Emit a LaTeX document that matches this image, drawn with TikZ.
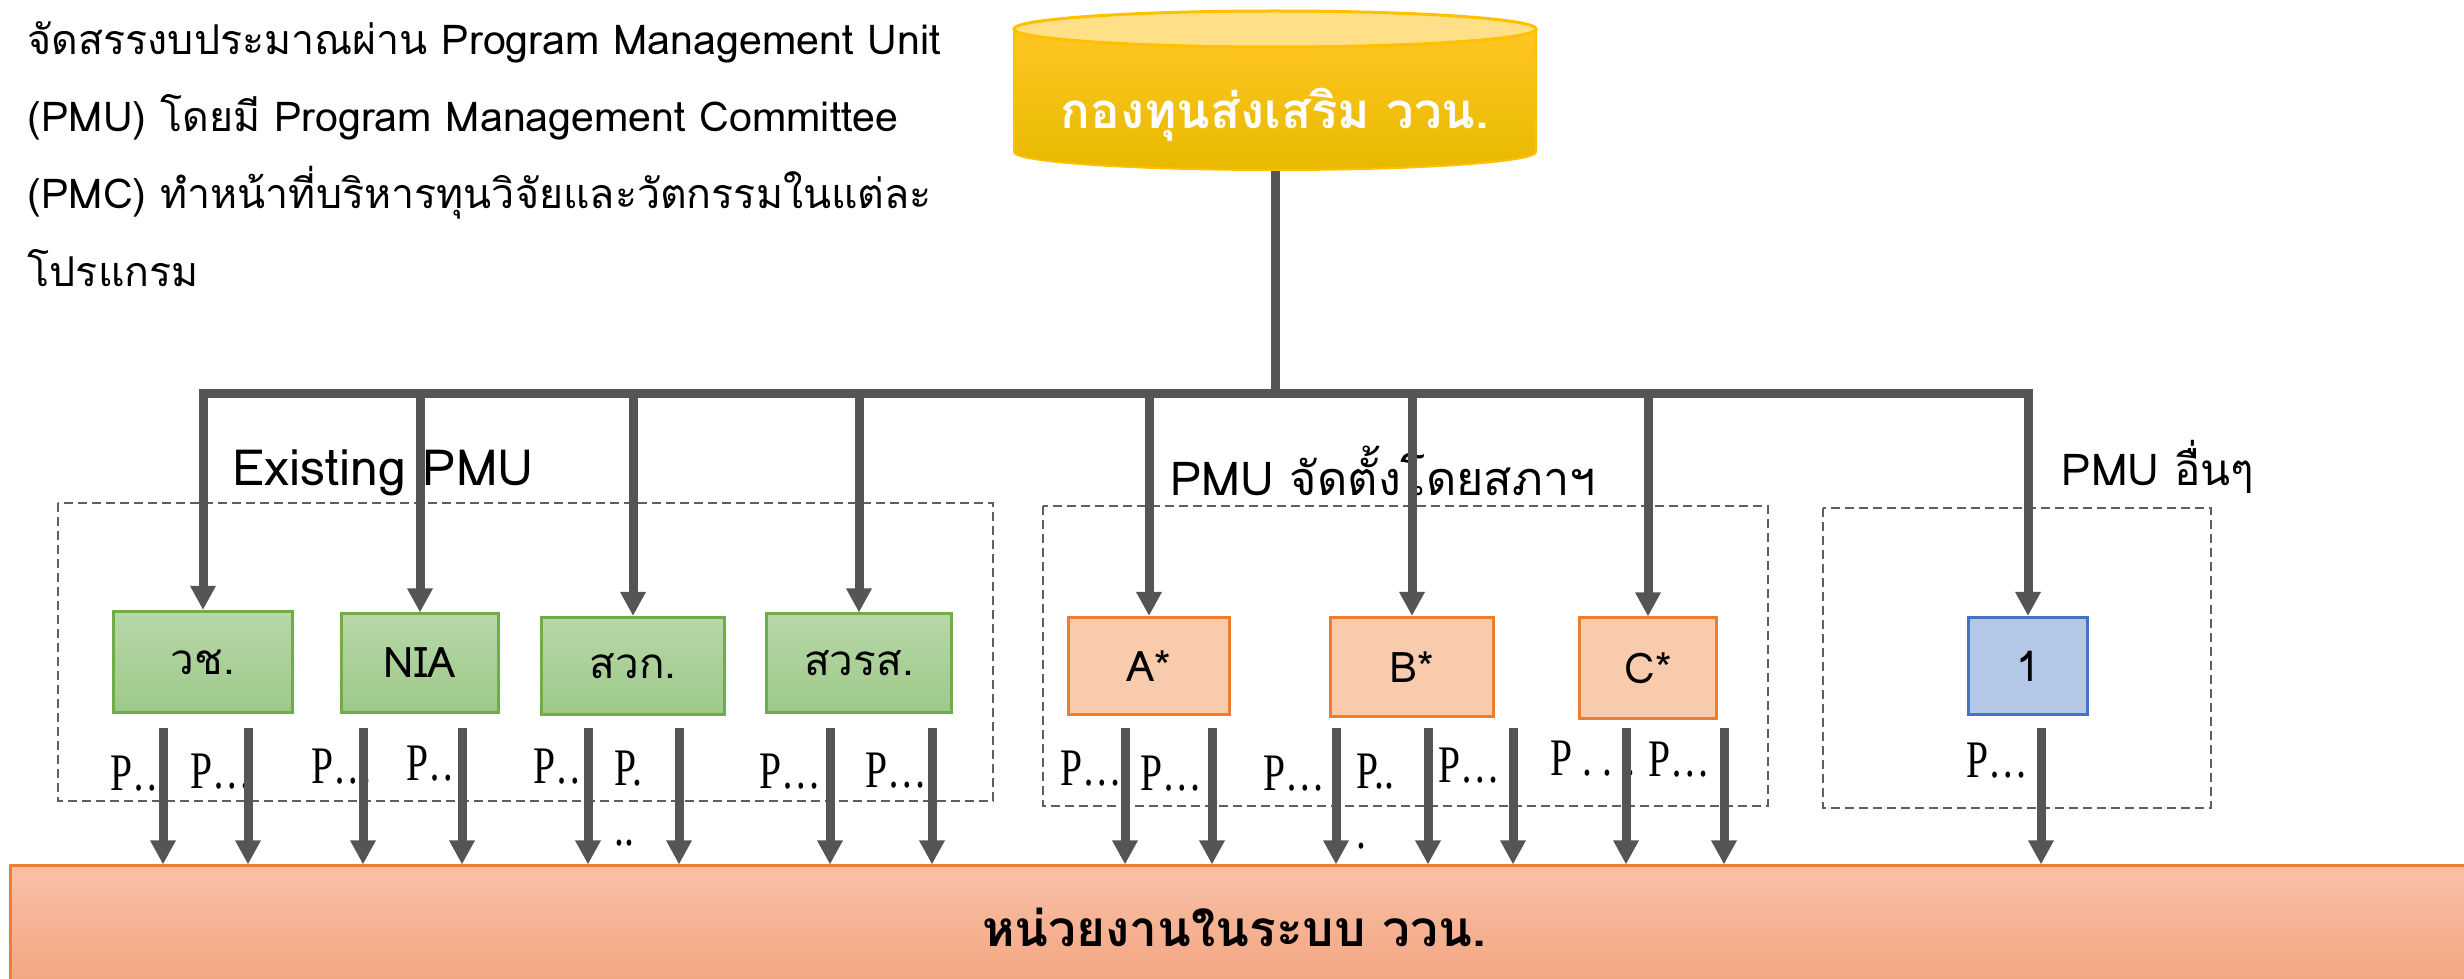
\documentclass[tikz,border=0pt]{standalone}
\usepackage{fontspec}
\setmainfont{Liberation Serif}
\newfontfamily\thaifont[Script=Thai]{Loma}
\usetikzlibrary{arrows.meta}

\definecolor{linegray}{RGB}{85,85,85}
\definecolor{dashgray}{RGB}{95,95,95}
\definecolor{pmugreen}{RGB}{112,173,71}
\definecolor{greentop}{RGB}{183,215,168}
\definecolor{greenbot}{RGB}{158,201,138}
\definecolor{pmuorange}{RGB}{237,125,49}
\definecolor{orangefill}{RGB}{248,203,173}
\definecolor{pmublue}{RGB}{68,114,196}
\definecolor{bluefill}{RGB}{180,199,231}
\definecolor{gold}{RGB}{255,192,0}
\definecolor{goldtop}{RGB}{255,223,136}
\definecolor{goldhi}{RGB}{255,198,34}
\definecolor{goldlo}{RGB}{232,185,0}
\definecolor{bartop}{RGB}{248,192,167}
\definecolor{barbot}{RGB}{244,165,128}

\newcommand{\pdots}[1]{\scalebox{0.75}[1]{#1}}

\begin{document}
\begin{tikzpicture}[x=0.01cm, y=-0.01cm,
    line/.style={draw=linegray, line width=0.09cm},
    arr/.style={line, -{Triangle[length=0.24cm, width=0.24cm]}},
    group/.style={draw=dashgray, line width=0.025cm, dash pattern=on 0.09cm off 0.05cm},
    unitbox/.style={line width=0.03cm, inner sep=0pt, font=\thaifont\fontsize{12}{14}\selectfont},
    existbox/.style={unitbox, draw=pmugreen, top color=greentop, bottom color=greenbot},
    newbox/.style={unitbox, draw=pmuorange, fill=orangefill},
    otherbox/.style={unitbox, draw=pmublue, fill=bluefill},
    grouplabel/.style={anchor=base, inner sep=0pt, font=\thaifont\fontsize{13.3}{15}\selectfont},
    plabel/.style={anchor=base west, inner sep=0pt, align=left, font=\fontsize{15}{17}\selectfont}]
  \useasboundingbox (0,0) rectangle (2464,979);

  % note on the left (base = last line)
  \node[anchor=base west, inner sep=0pt, align=left, font=\thaifont\fontsize{11.7}{21.9}\selectfont] (note) at (27,286)
    {จัดสรรงบประมาณผ่าน Program Management Unit\\(PMU) โดยมี Program Management Committee\\(PMC) ทำหน้าที่บริหารทุนวิจัยและวัตกรรมในแต่ละ\\โปรแกรม};

  % fund cylinder
  \fill[top color=goldhi, bottom color=goldlo, draw=gold, line width=0.02cm]
    (1014,29) -- (1014,152) .. controls (1014,162) and (1131,170) .. (1275,170)
    .. controls (1419,170) and (1536,162) .. (1536,152) -- (1536,29) -- cycle;
  \draw[fill=goldtop, draw=gold, line width=0.03cm] (1275,29) ellipse [x radius=261, y radius=18];
  \node[inner sep=0pt, minimum width=5.2cm, minimum height=1.1cm, text=white,
        font=\thaifont\bfseries\fontsize{14}{16}\selectfont] (fund) at (1275,115) {กองทุนส่งเสริม ววน.};

  % groups
  \draw[group] (58,503) rectangle (993,801);
  \draw[group] (1043,506) rectangle (1768,806);
  \draw[group] (1823,508) rectangle (2211,808);
  \node[grouplabel, font=\thaifont\fontsize{14.2}{16}\selectfont] (lexist) at (383,485) {Existing PMU};
  \node[grouplabel] (lnew) at (1383,495) {PMU จัดตั้งโดยสภาฯ};
  \node[grouplabel, font=\thaifont\fontsize{12.5}{14}\selectfont] (lother) at (2158,485) {PMU อื่นๆ};

  % PMU boxes
  \node[existbox, minimum width=1.79cm, minimum height=1.01cm] (vc) at (203,662) {วช.};
  \node[existbox, minimum width=1.57cm, minimum height=0.98cm] (nia) at (420,663) {NIA};
  \node[existbox, minimum width=1.82cm, minimum height=0.97cm] (swk) at (633,666) {สวก.};
  \node[existbox, minimum width=1.84cm, minimum height=0.98cm] (swrs) at (859,663) {สวรส.};
  \node[newbox, minimum width=1.60cm, minimum height=0.97cm] (pa) at (1149,666) {A*};
  \node[newbox, minimum width=1.62cm, minimum height=0.99cm] (pb) at (1412,667) {B*};
  \node[newbox, minimum width=1.37cm, minimum height=1.00cm] (pc) at (1648,668) {C*};
  \node[otherbox, minimum width=1.18cm, minimum height=0.97cm] (one) at (2028,666) {1};

  % units bar
  \node[draw=pmuorange, line width=0.03cm, top color=bartop, bottom color=barbot,
        minimum width=24.8cm, minimum height=1.2cm, inner sep=0pt] (units) at (1251,926) {};
  \node[inner sep=0pt, font=\thaifont\bfseries\fontsize{14.1}{16}\selectfont] (unitsname) at (1234,927) {หน่วยงานในระบบ ววน.};

  % program labels
  \foreach \x/\y [count=\i] in {110/790, 190/788, 311/783, 406/780, 533/783, 759/788, 865/787,
      1060/785, 1140/790, 1263/790, 1438/782, 1648/776, 1966/777}
    \node[plabel] (p\i) at (\x,\y) {\pdots{P…}};
  \node[plabel] (pswk) at (614,845) {\pdots{P.}\\\pdots{..}};
  \node[plabel] (pb2) at (1356,848) {\pdots{P..}\\\pdots{.}};
  \node[plabel] (pc1) at (1550,775) {\pdots{P . . .}};

  % funding flow
  \coordinate (hub) at (1275,393);
  \draw[line] (fund.south) -- (hub);
  \draw[line, line cap=rect] (vc.north |- hub) -- (one.north |- hub);
  \foreach \b in {vc,nia,swk,swrs,pa,pb,pc,one}
    \draw[arr] (\b.north |- hub) -- (\b.north);
  \foreach \x in {163,248,363,462,588,679,830,932,1125,1212,1336,1428,1513,1626,1724,2041}
    \draw[arr] (\x,728) -- (\x,728 |- units.north);
\end{tikzpicture}
\end{document}
